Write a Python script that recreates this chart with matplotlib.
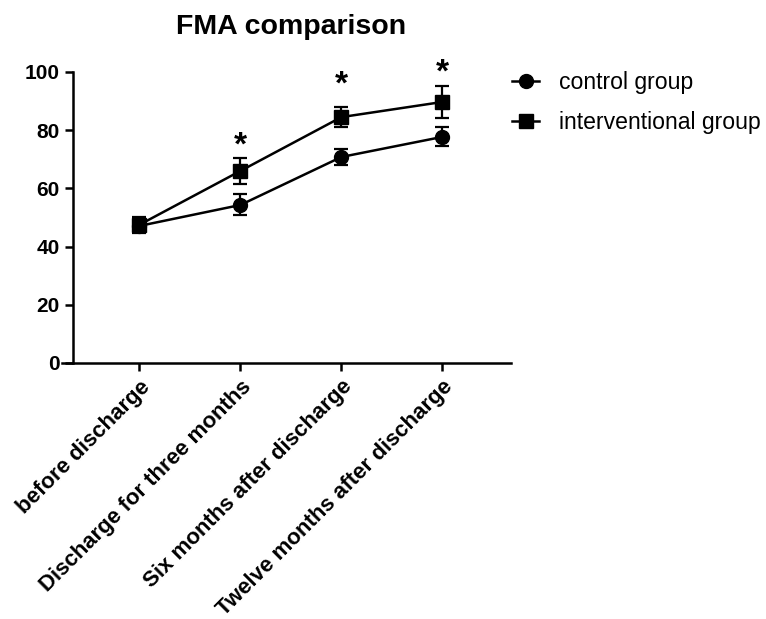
import numpy as np
import matplotlib
matplotlib.use("Agg")
import matplotlib.pyplot as plt
from matplotlib.lines import Line2D

# ---------- DATA ----------
categories = ["before discharge", "Discharge for three months",
              "Six months after discharge", "Twelve months after discharge"]
control_mean = [47.1, 54.3, 70.8, 77.7]
control_err = [2.5, 3.6, 2.6, 3.3]
interv_mean = [47.5, 66.0, 84.5, 89.7]
interv_err = [2.6, 4.5, 3.4, 5.4]
star_level = [None, 75.6, 96.6, 100.7]   # height of the "*" marks

plt.rcParams["font.family"] = ["Liberation Sans", "DejaVu Sans"]

fig = plt.figure(figsize=(7.66, 6.19), dpi=100)
ax = fig.add_axes([0.0809, 0.4136, 0.5861, 0.4701])

x = np.arange(len(categories))

ax.errorbar(x, control_mean, yerr=control_err, color="black", lw=1.8,
            marker="o", markersize=10, capsize=5, capthick=1.6, elinewidth=1.6,
            zorder=3)
ax.errorbar(x, interv_mean, yerr=interv_err, color="black", lw=1.8,
            marker="s", markersize=10, capsize=5, capthick=1.6, elinewidth=1.6,
            zorder=3)

# significance stars
for xi, s in zip(x, star_level):
    if s is not None:
        ax.text(xi, s, "*", ha="center", va="center_baseline",
                fontsize=24, fontweight="bold", clip_on=False)

ax.set_xlim(-0.767, 3.678)
ax.set_ylim(0, 100)
ax.spines["left"].set_position(("data", -0.658))
ax.spines["top"].set_visible(False)
ax.spines["right"].set_visible(False)
for s in ("left", "bottom"):
    ax.spines[s].set_linewidth(1.8)

ax.set_yticks([0, 20, 40, 60, 80, 100])
ax.set_xticks(x)
ax.set_xticklabels(categories, rotation=45, ha="right", rotation_mode="anchor")
ax.tick_params(axis="both", width=1.8, length=6)
ax.tick_params(axis="x", labelsize=16)
ax.tick_params(axis="y", labelsize=15)
for lab in ax.get_xticklabels() + ax.get_yticklabels():
    lab.set_fontweight("bold")

fig.suptitle("FMA comparison", x=0.38, y=0.977, fontsize=20.5, fontweight="bold")

handles = [
    Line2D([], [], color="black", lw=1.8, marker="o", markersize=10),
    Line2D([], [], color="black", lw=1.8, marker="s", markersize=10),
]
fig.legend(handles, ["control group", "interventional group"],
           loc="upper left", bbox_to_anchor=(0.641, 0.919), frameon=False,
           fontsize=16.6, handlelength=1.2, handletextpad=0.85, labelspacing=0.75)

fig.savefig("out.png", dpi=100)
